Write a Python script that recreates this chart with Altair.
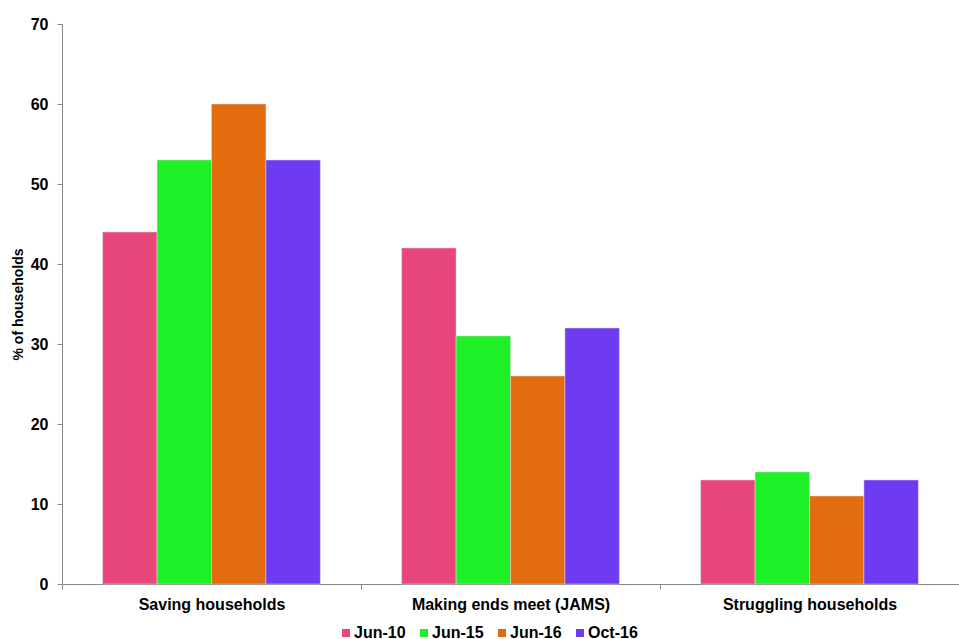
import altair as alt
import pandas as pd

categories = ["Saving households", "Making ends meet (JAMS)", "Struggling households"]
periods = ["Jun-10", "Jun-15", "Jun-16", "Oct-16"]
colors = ["#E8467A", "#1EF028", "#E36C0F", "#6E3AF2"]
values = {
    "Jun-10": [44, 42, 13],
    "Jun-15": [53, 31, 14],
    "Jun-16": [60, 26, 11],
    "Oct-16": [53, 32, 13],
}

rows = []
for p in periods:
    for c, v in zip(categories, values[p]):
        rows.append({"category": c, "period": p, "value": v})
df = pd.DataFrame(rows)

FONT = "Liberation Sans"

chart = alt.Chart(df).mark_bar(stroke="#dddddd", strokeWidth=0.5).encode(
    x=alt.X("category:N", sort=categories, title=None,
            scale=alt.Scale(paddingInner=0, paddingOuter=0),
            axis=alt.Axis(labelAngle=0, tickBand="extent", labelFontSize=16,
                          labelFontWeight="bold", labelColor="black", labelLimit=0,
                          labelPadding=7, tickSize=5, tickColor="#888888",
                          domainColor="#888888", labelFont=FONT)),
    xOffset=alt.XOffset("period:N", sort=periods,
                        scale=alt.Scale(paddingInner=0, paddingOuter=0.747)),
    y=alt.Y("value:Q", title="% of households",
            scale=alt.Scale(domain=[0, 70], nice=False),
            axis=alt.Axis(values=list(range(0, 71, 10)), grid=False, labelFontSize=16,
                          labelFontWeight="bold", labelColor="black", labelPadding=9,
                          tickSize=5, tickColor="#888888", domainColor="#888888",
                          titleFontSize=14, titleFontWeight="bold", titleColor="black",
                          titlePadding=5, labelFont=FONT, titleFont=FONT)),
    color=alt.Color("period:N", sort=periods,
                    scale=alt.Scale(domain=periods, range=colors),
                    legend=alt.Legend(title=None, orient="none", direction="horizontal",
                                      legendX=276, legendY=601,
                                      symbolType="square", symbolSize=64,
                                      symbolStrokeWidth=0, labelFontSize=16,
                                      labelFontWeight="bold", labelColor="black",
                                      labelFont=FONT, symbolOffset=0,
                                      columnPadding=10, labelOffset=0)),
).properties(
    width=897, height=560,
    autosize=alt.AutoSizeParams(type="none"),
    padding={"left": 62, "top": 24, "right": 0, "bottom": 55},
).configure_view(stroke=None)

chart.save("out.html", embed_options={"renderer": "svg", "actions": False})
